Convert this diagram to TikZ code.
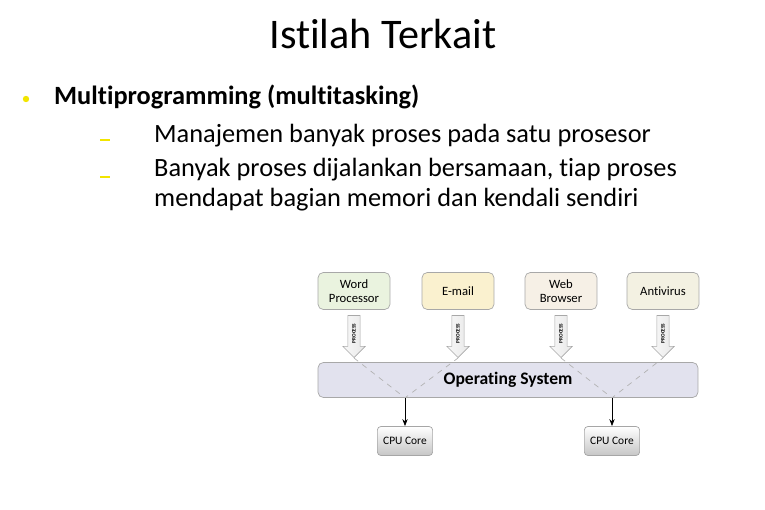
\documentclass[tikz,border=0pt]{standalone}
\usepackage{fontspec}
\setmainfont{Carlito}[Ligatures={NoCommon,NoContextual}]
\usetikzlibrary{positioning,calc,shapes.arrows,arrows.meta}
\definecolor{bullety}{HTML}{F2E500}
\definecolor{wordbg}{HTML}{EAF3DF}
\definecolor{mailbg}{HTML}{FAF1CF}
\definecolor{webbg}{HTML}{F6F0E6}
\definecolor{avbg}{HTML}{F3F1E2}
\definecolor{osbg}{HTML}{E2E2EE}
\definecolor{edge}{HTML}{A8A8A8}

\tikzset{
  appbox/.style={draw=edge, rounded corners=3pt, minimum width=1.44cm, minimum height=0.74cm,
    align=center, inner sep=1pt, font=\fontsize{7.2}{7.8}\selectfont},
  procarrow/.style={single arrow, draw=edge, left color=gray!5, right color=gray!18, rotate=90,
    shape border rotate=180, minimum height=0.84cm, single arrow head extend=0.1cm,
    inner xsep=0pt, inner ysep=2.3pt, anchor=tip, font=\fontsize{3}{3}\selectfont\bfseries},
  osbar/.style={draw=edge, fill=osbg, rounded corners=3pt, minimum width=7.6cm, minimum height=0.7cm,
    font=\fontsize{10}{12}\selectfont\bfseries},
  cpubox/.style={draw=gray!70, rounded corners=2pt, top color=white, bottom color=gray!45,
    minimum width=1.06cm, minimum height=0.58cm, font=\fontsize{6.5}{7}\selectfont},
  flow/.style={dashed, draw=gray!60, thin},
}

\begin{document}
\begin{tikzpicture}[x=0.02cm, y=-0.02cm]
  \useasboundingbox (0,0) rectangle (765,510);

  % Title and bullet text
  \node[anchor=base, font=\fontsize{24}{29}\selectfont] (title) at (383,49) {Istilah Terkait};
  \fill[bullety] (26,99) circle (3.2);
  \node[anchor=base west, font=\fontsize{15}{18}\selectfont\bfseries] (item) at (48,105) {Multiprogramming (multitasking)};
  \draw[bullety, thick] (100,140) -- (110,140);
  \draw[bullety, thick] (100,177) -- (110,177);
  \node[anchor=base west, font=\fontsize{15}{18}\selectfont] (sub1) at (148,143) {Manajemen banyak proses pada satu prosesor};
  \node[anchor=base west, font=\fontsize{15}{18}\selectfont] (sub2) at (148,177) {Banyak proses dijalankan bersamaan, tiap proses};
  \node[anchor=base west, font=\fontsize{15}{18}\selectfont] (sub2b) at (148,207) {mendapat bagian memori dan kendali sendiri};

  % Applications
  \node[appbox, fill=wordbg] (word) at (354,291) {Word\\Processor};
  \node[appbox, fill=mailbg] (mail) at (458,291) {E-mail};
  \node[appbox, fill=webbg] (web) at (561,291) {Web\\Browser};
  \node[appbox, fill=avbg] (av) at (663,291) {Antivirus};

  % Process arrows
  \node[procarrow] (p1) at (354,358) {PROCESS};
  \node[procarrow] (p2) at (458,358) {PROCESS};
  \node[procarrow] (p3) at (561,358) {PROCESS};
  \node[procarrow] (p4) at (663,358) {PROCESS};

  % Operating system and cores
  \node[osbar] (os) at (508,380) {Operating System};
  \node[cpubox] (cpu1) at (405,441) {CPU Core};
  \node[cpubox] (cpu2) at (612,441) {CPU Core};

  \coordinate (j1) at (os.south -| cpu1.north);
  \coordinate (j2) at (os.south -| cpu2.north);
  \draw[flow] (p1.tip) -- (j1) -- (p2.tip);
  \draw[flow] (p3.tip) -- (j2) -- (p4.tip);
  \draw[-{Stealth[length=4pt, width=3pt]}] (j1) -- (cpu1.north);
  \draw[-{Stealth[length=4pt, width=3pt]}] (j2) -- (cpu2.north);
\end{tikzpicture}
\end{document}
